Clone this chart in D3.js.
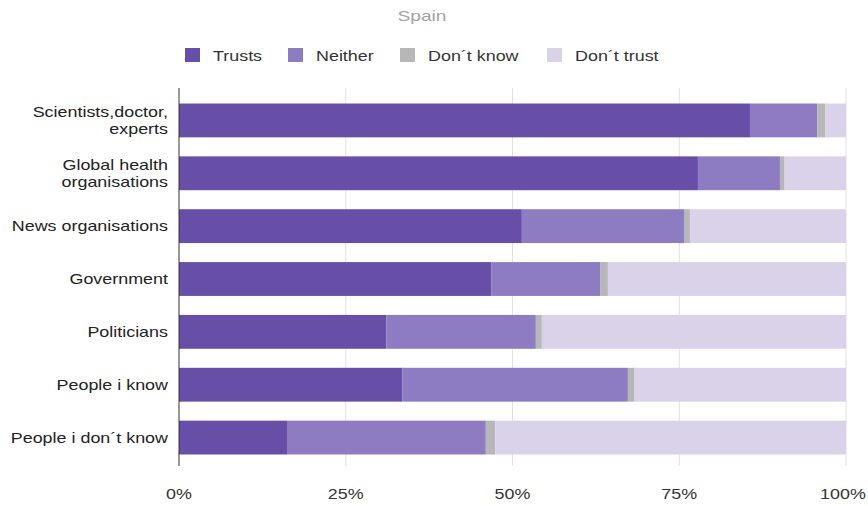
<!DOCTYPE html>
<html>
<head>
<meta charset="utf-8">
<script src="https://cdn.jsdelivr.net/npm/d3@7"></script>
<style>
  html, body { margin: 0; padding: 0; background: #fff; }
  svg { display: block; font-family: Arial, "Liberation Sans", sans-serif; }
</style>
</head>
<body>
<svg id="chart" width="868" height="506"></svg>
<script>
// Trust in sources of information, Spain (share of respondents, %)
const categories = [
  ["Scientists,doctor,", "experts"],
  ["Global health", "organisations"],
  ["News organisations"],
  ["Government"],
  ["Politicians"],
  ["People i know"],
  ["People i don´t know"]
];
const seriesNames = ["Trusts", "Neither", "Don´t know", "Don´t trust"];
const trusts     = [85.6, 77.8, 51.4, 46.8, 31.1, 33.5, 16.3];
const neither    = [10.1, 12.3, 24.4, 16.4, 22.4, 33.8, 29.7];
const dontKnow   = [ 1.2,  0.7,  0.8,  1.1,  0.9,  1.0,  1.4];
const dontTrust  = [ 3.1,  9.2, 23.4, 35.7, 45.6, 31.7, 52.6];
const tickValues = [0, 0.25, 0.5, 0.75, 1];

const colors = ["#674ea7", "#8e7cc3", "#b7b7b7", "#d9d2e9"];
const SX = 1.28; // horizontal stretch of the wide text face

const svg = d3.select("#chart");
const margin = { left: 179, right: 22, top: 94, bottom: 42 };
const W = 868, H = 506;

const rows = categories.map((c, i) => ({
  key: i,
  "Trusts": trusts[i],
  "Neither": neither[i],
  "Don´t know": dontKnow[i],
  "Don´t trust": dontTrust[i]
}));
const totals = rows.map(r => seriesNames.reduce((s, k) => s + r[k], 0));
const normRows = rows.map((r, i) => {
  const o = { key: r.key };
  seriesNames.forEach(k => o[k] = r[k] / totals[i]);
  return o;
});
const stacked = d3.stack().keys(seriesNames)(normRows);

const x = d3.scaleLinear().domain([0, 1]).range([margin.left, W - margin.right]);
const y = d3.scaleBand().domain(d3.range(categories.length))
  .range([margin.top, H - margin.bottom]).paddingInner(0.36).paddingOuter(0.18);

function wideText(parent, tx, ty, anchor, size, fill, str) {
  return parent.append("text")
    .attr("transform", `translate(${tx},${ty}) scale(${SX},1)`)
    .attr("text-anchor", anchor)
    .attr("font-size", size).attr("fill", fill)
    .text(str);
}

// title
wideText(svg, 422, 21, "middle", 15, "#a3a3a3", "Spain");

// legend
const legendX = [185, 288, 400, 547];
seriesNames.forEach((name, i) => {
  const g = svg.append("g").attr("transform", `translate(${legendX[i]},48)`);
  g.append("rect").attr("width", 15).attr("height", 14).attr("fill", colors[i]);
  wideText(g, 28, 12.5, "start", 14, "#333", name);
});

// gridlines
svg.append("g").selectAll("line").data(tickValues.slice(1)).join("line")
  .attr("x1", d => x(d)).attr("x2", d => x(d))
  .attr("y1", margin.top - 6).attr("y2", H - margin.bottom + 2)
  .attr("stroke", "#e0e0e0").attr("stroke-width", 1);

// bars
svg.append("g").selectAll("g").data(stacked).join("g")
  .attr("fill", (d, i) => colors[i])
  .selectAll("rect").data(d => d).join("rect")
  .attr("x", d => x(d[0]))
  .attr("width", d => Math.max(0, x(d[1]) - x(d[0])))
  .attr("y", (d, i) => y(i))
  .attr("height", y.bandwidth());

// baseline
svg.append("line")
  .attr("x1", x(0)).attr("x2", x(0))
  .attr("y1", margin.top - 6).attr("y2", H - margin.bottom + 2)
  .attr("stroke", "#333").attr("stroke-width", 1);

// x axis labels (the last one is nudged inward so it stays on the canvas)
const xAxis = d3.axisBottom(x).tickValues(tickValues)
  .tickFormat(d3.format(".0%")).tickSize(0).tickPadding(0);
const ax = svg.append("g").attr("transform", `translate(0,${H - 7})`).call(xAxis);
ax.select(".domain").remove();
ax.selectAll(".tick").attr("transform", d => `translate(${x(d) - (d === 1 ? 3 : 0)},0)`);
ax.selectAll("text")
  .attr("font-size", 14).attr("fill", "#333").attr("dy", 0)
  .attr("transform", `scale(${SX},1)`)
  .attr("font-family", "Arial, 'Liberation Sans', sans-serif");

// category labels
categories.forEach((lines, i) => {
  const cy = y(i) + y.bandwidth() / 2;
  const lh = 17;
  const start = cy - (lines.length - 1) * lh / 2 + 5;
  lines.forEach((ln, j) => {
    wideText(svg, 168, start + j * lh, "end", 14, "#222", ln);
  });
});
</script>
</body>
</html>
